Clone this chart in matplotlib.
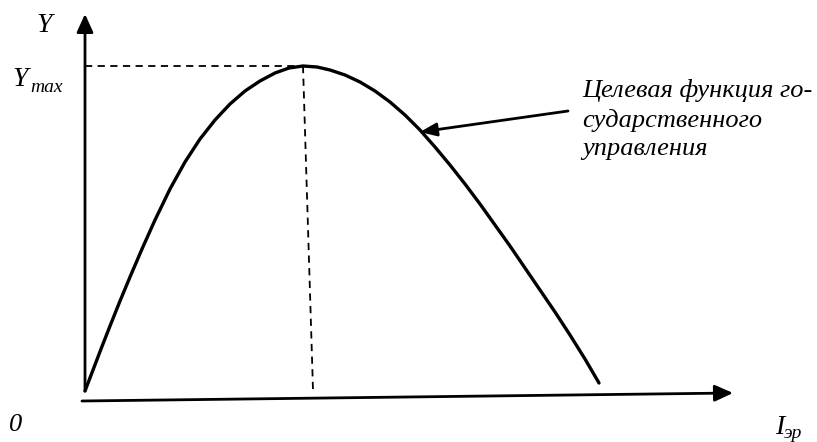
import numpy as np
import matplotlib.pyplot as plt

# координаты: начало осей в точке 0, ось Y вверх
curve_x = [0, 8, 16, 25, 35, 45, 57, 70, 85, 100, 115, 130, 145, 160, 175, 190, 204, 218,
           232, 245, 260, 275, 290, 305, 320, 335, 350, 365, 380, 395, 410, 425, 440, 455,
           470, 485, 500, 514]
curve_y = [9, 30, 51, 74, 99, 123, 151, 180, 211, 238, 261, 280, 296, 309, 319, 327, 332, 334,
           333, 330, 325, 318, 309, 298, 285, 270, 253, 235, 216, 196, 175, 154, 132, 110,
           88, 65, 41, 17]

peak_x, peak_y = 218, 334
peak_foot_x = 228
x_axis_start = (-3, -1)
x_axis_end = (648, 7)
y_axis_start = (0, 9)
y_axis_end = (0, 386)
note_tip = (335, 268)
note_tail = (483, 289)
note_text = "Целевая функция го-\nсударственного\nуправления"

plt.rcParams['font.family'] = ['Liberation Serif', 'DejaVu Serif']

fig = plt.figure(figsize=(8.17, 4.42), dpi=100)
ax = fig.add_axes([0, 0, 1, 1])
ax.set_xlim(-85, 732)
ax.set_ylim(-42, 400)
ax.axis('off')

arrow = dict(arrowstyle='-|>,head_length=1.1,head_width=0.5', lw=2, color='black',
             shrinkA=0, shrinkB=0)
ax.annotate('', xy=x_axis_end, xytext=x_axis_start, arrowprops=arrow)
ax.annotate('', xy=y_axis_end, xytext=y_axis_start, arrowprops=arrow)

ax.plot(curve_x, curve_y, color='black', lw=2.4, solid_capstyle='round', solid_joinstyle='round')

ax.plot([0, peak_x], [peak_y, peak_y], color='black', lw=1.3, dashes=(4, 3))
ax.plot([peak_x, peak_foot_x], [peak_y, 10], color='black', lw=1.3, dashes=(4, 3))

ax.annotate('', xy=note_tip, xytext=note_tail,
            arrowprops=dict(arrowstyle='-|>,head_length=1.0,head_width=0.4', lw=2,
                            color='black', shrinkA=0, shrinkB=0))
ax.text(497, 321, note_text, fontsize=19, style='italic', ha='left', va='top',
        linespacing=1.38)

ax.text(-41, 375, "Y", fontsize=20, style='italic', ha='center', va='center')
ax.text(-73, 320, "Y", fontsize=20, style='italic', ha='left', va='center')
ax.text(-55, 313, "max", fontsize=14, style='italic', ha='left', va='center')
ax.text(-76, -25, "0", fontsize=19, style='italic', ha='left', va='center')
ax.text(690, -27, "I", fontsize=20, style='italic', ha='left', va='center')
ax.text(699, -33, "эр", fontsize=14, style='italic', ha='left', va='center')

fig.savefig('out.png', dpi=100)
